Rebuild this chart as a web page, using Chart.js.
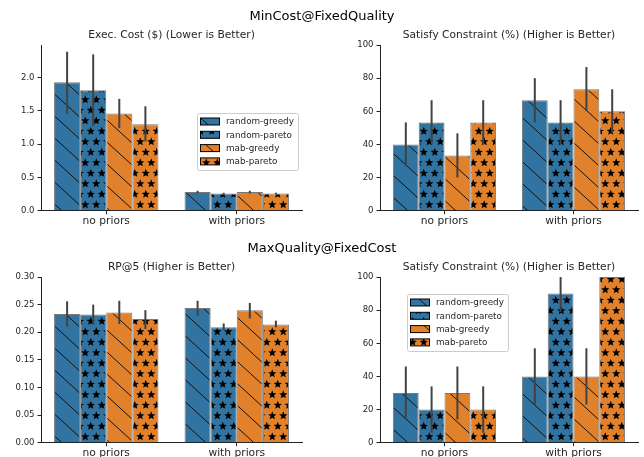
<!DOCTYPE html>
<html>
<head>
<meta charset="utf-8">
<script src="https://cdn.jsdelivr.net/npm/chart.js@4.4.0/dist/chart.umd.min.js"></script>
<style>
    body { margin: 0; background: #fff; width: 644px; height: 457px; position: relative; overflow: hidden; font-family: "DejaVu Sans", sans-serif; }
    .suptitle { position: absolute; left: 0; width: 644px; text-align: center; font-size: 13px; line-height: 15px; color: #000; z-index: 2; }
    canvas { position: absolute; }
</style>
</head>
<body>
<div class="suptitle" style="top:8px">MinCost@FixedQuality</div>
<div class="suptitle" style="top:240px">MaxQuality@FixedCost</div>
<canvas id="costChart" style="left:0;top:0"></canvas>
<canvas id="satisfyQualityChart" style="left:322px;top:0"></canvas>
<canvas id="rpChart" style="left:0;top:232px"></canvas>
<canvas id="satisfyCostChart" style="left:322px;top:232px"></canvas>
<script>
const groups = ['no priors', 'with priors'];
const methods = ['random-greedy', 'random-pareto', 'mab-greedy', 'mab-pareto'];

// MinCost@FixedQuality - exec cost, rows follow methods
const costMean = [[1.93, 0.28], [1.81, 0.26], [1.46, 0.28], [1.30, 0.26]];
const costLow = [[1.46, 0.26], [1.27, 0.25], [1.24, 0.26], [1.04, 0.25]];
const costHigh = [[2.39, 0.30], [2.35, 0.27], [1.68, 0.30], [1.57, 0.27]];

// MinCost@FixedQuality - satisfy constraint
const satQMean = [[40, 66.7], [53.3, 53.3], [33.3, 73.3], [53.3, 60]];
const satQLow = [[26.7, 53.3], [40, 40], [20, 60], [40, 46.7]];
const satQHigh = [[53.3, 80], [66.7, 66.7], [46.7, 86.7], [66.7, 73.3]];

// MaxQuality@FixedCost - RP@5
const rpMean = [[0.233, 0.244], [0.232, 0.209], [0.236, 0.240], [0.224, 0.214]];
const rpLow = [[0.210, 0.230], [0.215, 0.204], [0.215, 0.225], [0.206, 0.209]];
const rpHigh = [[0.256, 0.257], [0.250, 0.216], [0.257, 0.253], [0.240, 0.221]];

// MaxQuality@FixedCost - satisfy constraint
const satCMean = [[30, 40], [20, 90], [30, 40], [20, 100]];
const satCLow = [[14, 23], [6, 79], [14, 23], [6, 100]];
const satCHigh = [[46, 57], [34, 100], [46, 57], [34, 100]];

const BLUE = '#3274a1';
const ORANGE = '#e1812c';
const FONT = '"DejaVu Sans", sans-serif';

function drawStar(c, x, y, R, r) {
    c.beginPath();
    for (let i = 0; i < 10; i++) {
        const a = -Math.PI / 2 + i * Math.PI / 5;
        const rad = i % 2 ? r : R;
        c.lineTo(x + rad * Math.cos(a), y + rad * Math.sin(a));
    }
    c.closePath();
    c.fill();
}

function makePattern(color, kind) {
    const tile = document.createElement('canvas');
    const c = tile.getContext('2d');
    if (kind === 'diag') {
        const w = 24, h = 22;
        tile.width = w; tile.height = h;
        c.fillStyle = color;
        c.fillRect(0, 0, w, h);
        c.strokeStyle = '#111';
        c.lineWidth = 1;
        [-1, 0, 1].forEach(k => {
            c.beginPath();
            c.moveTo(k * w, 0);
            c.lineTo(k * w + w, h);
            c.stroke();
        });
    } else {
        // offset rows of stars, as in matplotlib's '*' hatch
        const w = 11, h = 21;
        tile.width = w; tile.height = h;
        c.fillStyle = color;
        c.fillRect(0, 0, w, h);
        c.fillStyle = '#000';
        const pts = [[2.75, 5.25], [8.25, 15.75]];
        pts.forEach(([px, py]) => {
            for (let dx = -1; dx <= 1; dx++) {
                for (let dy = -1; dy <= 1; dy++) {
                    drawStar(c, px + dx * w, py + dy * h, 4.4, 1.9);
                }
            }
        });
    }
    return c.createPattern(tile, 'repeat');
}

const fills = [
    makePattern(BLUE, 'diag'),
    makePattern(BLUE, 'star'),
    makePattern(ORANGE, 'diag'),
    makePattern(ORANGE, 'star')
];

const errorBars = {
    id: 'errorBars',
    afterDatasetsDraw(chart) {
        const ctx = chart.ctx;
        const y = chart.scales.y;
        ctx.save();
        ctx.strokeStyle = '#424242';
        ctx.lineWidth = 2;
        chart.data.datasets.forEach((ds, i) => {
            chart.getDatasetMeta(i).data.forEach((bar, j) => {
                const lo = ds.errLow[j], hi = ds.errHigh[j];
                if (lo === hi) return;
                ctx.beginPath();
                ctx.moveTo(bar.x, y.getPixelForValue(lo));
                ctx.lineTo(bar.x, y.getPixelForValue(hi));
                ctx.stroke();
            });
        });
        ctx.restore();
    }
};

// legend drawn inside the axes, like matplotlib's loc='center right' / 'upper left'
const boxLegend = {
    id: 'boxLegend',
    afterDraw(chart, args, opts) {
        const ctx = chart.ctx;
        const x = opts.x, y = opts.y, w = 101, h = 57;
        ctx.save();
        ctx.fillStyle = 'rgba(255,255,255,0.85)';
        ctx.strokeStyle = '#cccccc';
        ctx.lineWidth = 1;
        ctx.beginPath();
        ctx.roundRect(x + 0.5, y + 0.5, w, h, 2);
        ctx.fill();
        ctx.stroke();
        ctx.font = '8.8px ' + FONT;
        ctx.textBaseline = 'middle';
        chart.data.datasets.forEach((ds, i) => {
            const cy = y + 8.5 + i * 13.3;
            ctx.fillStyle = ds.backgroundColor;
            ctx.fillRect(x + 3, cy - 3.5, 20, 7);
            ctx.strokeStyle = '#000';
            ctx.strokeRect(x + 3.5, cy - 3.5, 19, 7);
            ctx.fillStyle = '#262626';
            ctx.fillText(ds.label, x + 29, cy + 0.5);
        });
        ctx.restore();
    }
};

function makeBarChart(id, title, means, lows, highs, yMax, yStep, decimals, axisWidth, padRight, axisHeight, canvasHeight, legendAt) {
    const el = document.getElementById(id);
    el.width = 322;
    el.height = canvasHeight;
    return new Chart(el.getContext('2d'), {
        type: 'bar',
        data: {
            labels: groups,
            datasets: methods.map((m, i) => ({
                label: m,
                data: means[i],
                errLow: lows[i],
                errHigh: highs[i],
                backgroundColor: fills[i],
                borderColor: 'rgba(30,30,30,0.6)',
                borderWidth: 1,
                barPercentage: 1,
                categoryPercentage: 0.8
            }))
        },
        options: {
            responsive: false,
            animation: false,
            layout: {
                padding: { top: 29, right: padRight, bottom: 0, left: 0 }
            },
            plugins: {
                legend: { display: false },
                tooltip: { enabled: false },
                title: {
                    display: true,
                    text: title,
                    fullSize: false,
                    color: '#262626',
                    font: { family: FONT, size: 10.7, weight: 'normal', lineHeight: 1.2 },
                    padding: { top: 0, bottom: 3.2 }
                },
                boxLegend: legendAt ? legendAt : false
            },
            scales: {
                x: {
                    afterFit: s => { s.height = axisHeight; },
                    grid: { drawOnChartArea: false, drawTicks: true, tickLength: 3.5, tickColor: '#222', offset: false },
                    border: { display: true, color: '#222', width: 1 },
                    ticks: { color: '#262626', padding: 1, font: { family: FONT, size: 10.7 } }
                },
                y: {
                    min: 0,
                    max: yMax,
                    afterFit: s => { s.width = axisWidth; },
                    grid: { drawOnChartArea: false, drawTicks: true, tickLength: 3.5, tickColor: '#222' },
                    border: { display: true, color: '#222', width: 1 },
                    ticks: {
                        stepSize: yStep,
                        includeBounds: false,
                        color: '#262626',
                        padding: 3,
                        font: { family: FONT, size: 8.5 },
                        callback: v => v.toFixed(decimals)
                    }
                }
            }
        },
        plugins: [errorBars, boxLegend]
    });
}

makeBarChart('costChart', 'Exec. Cost ($) (Lower is Better)', costMean, costLow, costHigh,
    2.49, 0.5, 1, 41, 20, 21.3, 232, { x: 197, y: 113 });
makeBarChart('satisfyQualityChart', 'Satisfy Constraint (%) (Higher is Better)', satQMean, satQLow, satQHigh,
    100, 20, 0, 58, 6, 21.3, 232, null);
makeBarChart('rpChart', 'RP@5 (Higher is Better)', rpMean, rpLow, rpHigh,
    0.30, 0.05, 2, 41, 20, 14.3, 225, null);
makeBarChart('satisfyCostChart', 'Satisfy Constraint (%) (Higher is Better)', satCMean, satCLow, satCHigh,
    100, 20, 0, 58, 6, 14.3, 225, { x: 85, y: 62 });
</script>
</body>
</html>
